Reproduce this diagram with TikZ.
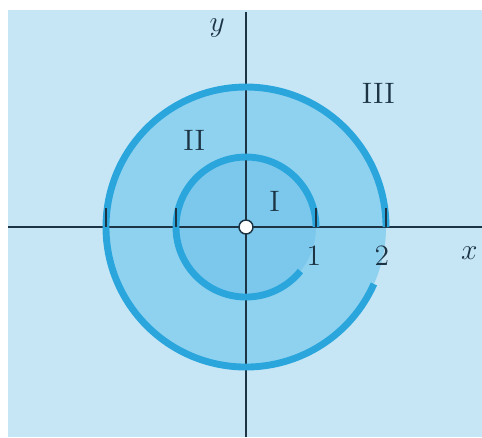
\documentclass[tikz,border=0pt]{standalone}
\usepackage{tikz}
\usetikzlibrary{positioning}
\definecolor{fondo}{HTML}{C6E6F6}
\definecolor{anillo}{HTML}{8FD2F0}
\definecolor{disco}{HTML}{7CC8EC}
\definecolor{espiral}{HTML}{2BA6DD}
\definecolor{tinta}{HTML}{1C3444}
\tikzset{
  eje/.style={draw=tinta,line width=0.6pt},
  tramo/.style={draw=espiral,line width=2.8pt},
  marca/.style={draw=tinta,line width=0.8pt},
  origen/.style={circle,draw=tinta,fill=white,line width=0.6pt,inner sep=0pt,minimum size=2mm},
  etiq/.style={font=\large,text=tinta,inner sep=0pt},
}
\begin{document}
\begin{tikzpicture}[x=1cm,y=1cm]
  \useasboundingbox (-3.514,-3.0) rectangle (3.371,3.243);
  \fill[fondo] (-3.4,-3.0) rectangle (3.371,3.1);
  \fill[anillo] (0,0) circle (2);
  \fill[disco] (0,0) circle (1);
  % ejes
  \coordinate (xizq) at (-3.4,0); \coordinate (xder) at (3.371,0);
  \coordinate (yabajo) at (0,-3.0); \coordinate (yarriba) at (0,3.07);
  \draw[eje] (xizq) -- (xder);
  \draw[eje] (yabajo) -- (yarriba);
  % espiral
  \draw[tramo] (1,0) arc[start angle=0,end angle=321,radius=1];
  \draw[tramo] (2,0) arc[start angle=0,end angle=336,radius=2];
  \foreach \t in {-2,-1,1,2} \draw[marca] (\t,0) -- (\t,0.27);
  \node[origen] (o) at (0,0) {};
  \node[etiq] (uno) at (0.97,-0.41) {$1$};
  \node[etiq] (dos) at (1.94,-0.41) {$2$};
  \node[etiq] (ex) at (3.19,-0.37) {$x$};
  \node[etiq] (ye) at (-0.41,2.84) {$y$};
  \node[etiq] (reg1) at (0.41,0.36) {I};
  \node[etiq] (reg2) at (-0.74,1.24) {II};
  \node[etiq] (reg3) at (1.89,1.91) {III};
\end{tikzpicture}
\end{document}
